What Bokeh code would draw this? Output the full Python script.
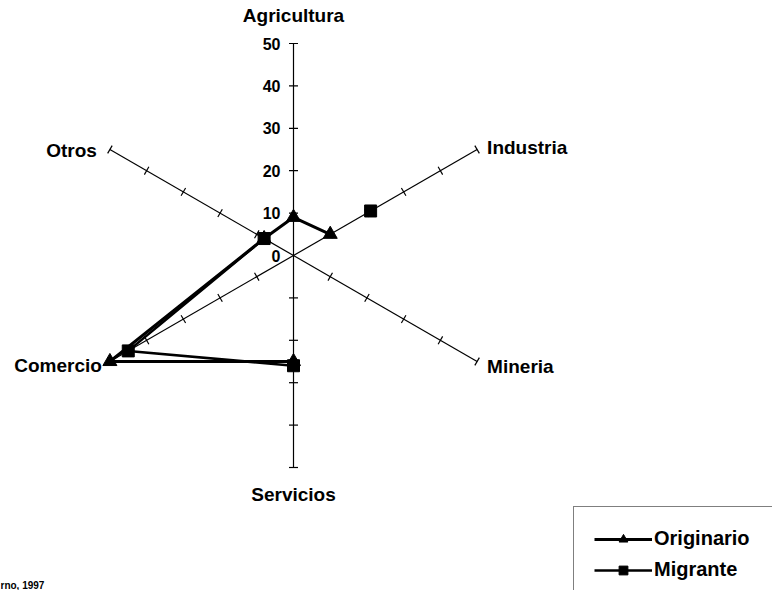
import math
from bokeh.plotting import figure
from bokeh.models import Range1d, Legend, LegendItem
from bokeh.core.properties import value
from bokeh.embed import file_html
from bokeh.resources import INLINE

# ---- data ----
categories = ["Agricultura", "Industria", "Mineria", "Servicios", "Comercio", "Otros"]
angles_deg = [90, 30, -30, -90, 210, 150]
originario = [9, 10, None, 25, 50, 8]      # None = empty cell (gap)
migrante = [None, 21, None, 26, 45, 8]
tick_values = [0, 10, 20, 30, 40, 50]
tick_labels = ["0", "10", "20", "30", "40", "50"]
source_note = "rno, 1997"

R_MAX = 50
W, H = 772, 590
S = 4.24            # px per unit
CX, CY = 293, 255   # centre in px from top-left of figure

FONT_NAME = "Liberation Sans"
FONT = value(FONT_NAME)
NAN = float("nan")

p = figure(width=W, height=H, output_backend="svg", toolbar_location=None,
           x_range=Range1d(-CX / S, (W - CX) / S),
           y_range=Range1d(-(H - CY) / S, CY / S),
           min_border=0, outline_line_color=None)
p.axis.visible = False
p.grid.visible = False
p.background_fill_color = "white"
p.border_fill_color = "white"


def polar(v, a):
    r = math.radians(a)
    return v * math.cos(r), v * math.sin(r)


# ---- spokes with tick marks ----
tick_half = 4.5 / S
sx0, sy0, sx1, sy1 = [], [], [], []
tx0, ty0, tx1, ty1 = [], [], [], []
for a in angles_deg:
    x, y = polar(R_MAX, a)
    sx0.append(0); sy0.append(0); sx1.append(x); sy1.append(y)
    pr = math.radians(a + 90)
    for t in tick_values[1:]:
        px, py = polar(t, a)
        dx, dy = tick_half * math.cos(pr), tick_half * math.sin(pr)
        tx0.append(px - dx); ty0.append(py - dy)
        tx1.append(px + dx); ty1.append(py + dy)
p.segment(sx0, sy0, sx1, sy1, line_color="black", line_width=1.2)
p.segment(tx0, ty0, tx1, ty1, line_color="black", line_width=1.2)

# ---- tick labels on the top spoke ----
p.text(x=[0] * len(tick_values), y=tick_values, text=tick_labels,
       x_offset=-13, text_align="right", text_baseline="middle",
       text_font=FONT, text_font_size="16px", text_font_style="bold",
       text_color="black")

# ---- category labels ----
offsets = {
    "Agricultura": (0, -28, "center"),
    "Industria": (10, -2, "left"),
    "Mineria": (10, 5, "left"),
    "Servicios": (0, 27, "center"),
    "Comercio": (-8, 4, "right"),
    "Otros": (-13, 1, "right"),
}
for c, a in zip(categories, angles_deg):
    x, y = polar(R_MAX, a)
    ox, oy, al = offsets[c]
    p.text(x=[x], y=[y], text=[c], x_offset=ox, y_offset=oy,
           text_align=al, text_baseline="middle",
           text_font=FONT, text_font_size="19px", text_font_style="bold",
           text_color="black")


# ---- series (empty cells break the line) ----
def series_xy(vals):
    lx, ly, mx, my = [], [], [], []
    for v, a in zip(vals, angles_deg):
        if v is None:
            lx.append(NAN); ly.append(NAN)
        else:
            x, y = polar(v, a)
            lx.append(x); ly.append(y)
            mx.append(x); my.append(y)
    return lx + lx[:1], ly + ly[:1], mx, my


olx, oly, omx, omy = series_xy(originario)
mlx, mly, mmx, mmy = series_xy(migrante)

l_o = p.line(olx, oly, line_color="black", line_width=3)
m_o = p.scatter(omx, omy, marker="triangle", size=14, fill_color="black",
                line_color="black")
l_m = p.line(mlx, mly, line_color="black", line_width=2.5)
m_m = p.scatter(mmx, mmy, marker="square", size=12, fill_color="black",
                line_color="black")

# ---- source note ----
p.text(x=[-CX / S], y=[-(H - CY) / S], text=[source_note], x_offset=0, y_offset=0,
       text_align="left", text_baseline="bottom",
       text_font=FONT, text_font_size="10px", text_font_style="bold",
       text_color="black")

# ---- legend ----
legend = Legend(items=[LegendItem(label="Originario", renderers=[l_o, m_o]),
                       LegendItem(label="Migrante", renderers=[l_m, m_m])],
                location=(573, -12), orientation="vertical",
                border_line_color="black", border_line_width=1.5,
                background_fill_color="white", background_fill_alpha=1,
                padding=20, spacing=8, margin=0,
                glyph_width=58, glyph_height=22, label_height=22,
                label_width=140, label_standoff=2,
                label_text_font=FONT_NAME, label_text_font_size="20px",
                label_text_font_style="bold", label_text_color="black")
p.add_layout(legend, "center")

open("out.html", "w").write(file_html(p, INLINE))
